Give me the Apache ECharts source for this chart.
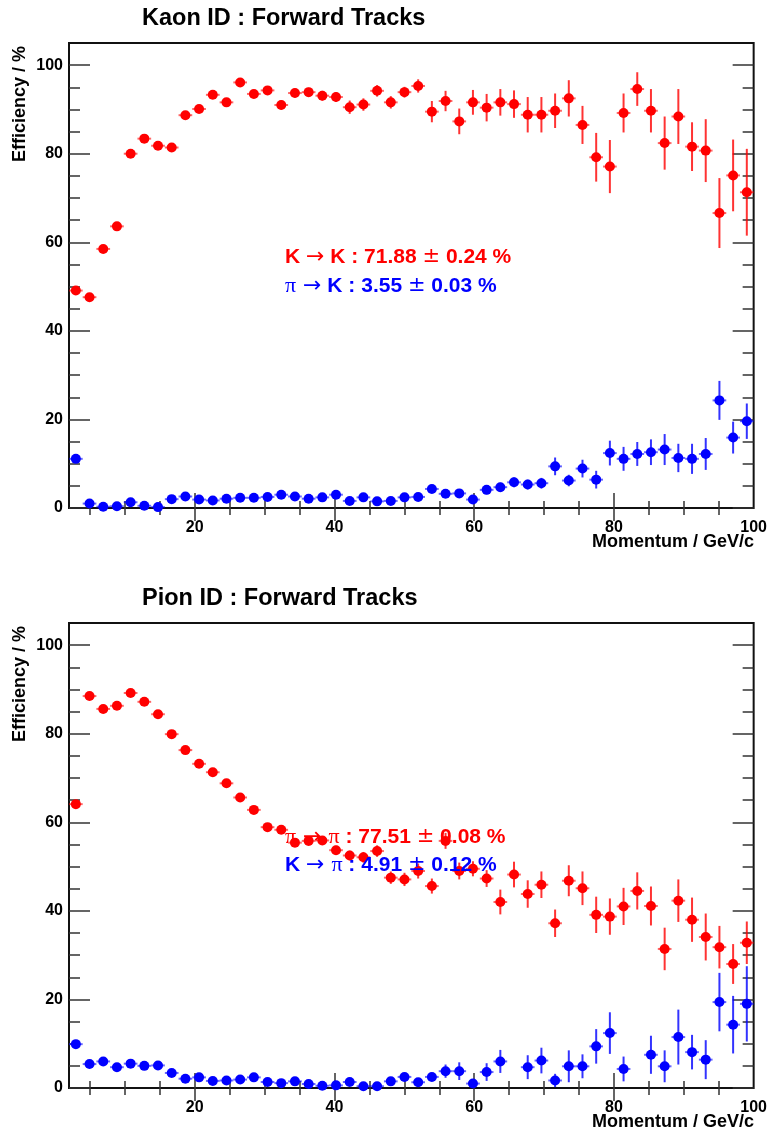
<!DOCTYPE html>
<html>
<head>
<meta charset="utf-8">
<script src="https://cdn.jsdelivr.net/npm/echarts@6/dist/echarts.min.js"></script>
<style>
html,body{margin:0;padding:0;background:#fff;}
#c{width:770px;height:1132px;}
</style>
</head>
<body>
<div id="c"></div>
<script>
// ---- data ----
var momentum = [2.98,4.94,6.90,8.86,10.82,12.78,14.74,16.70,18.66,20.62,22.58,24.54,26.50,28.46,30.42,32.38,34.34,36.30,38.26,40.22,42.18,44.14,46.10,48.06,50.02,51.98,53.94,55.90,57.86,59.82,61.78,63.74,65.70,67.66,69.62,71.58,73.54,75.50,77.46,79.42,81.38,83.34,85.30,87.26,89.22,91.18,93.14,95.10,97.06,99.02];
var binWidth = 1.96;

var kaonKK = [49.1,47.6,58.5,63.6,80.0,83.4,81.8,81.4,88.7,90.1,93.3,91.6,96.1,93.5,94.3,91.0,93.7,93.9,93.1,92.8,90.5,91.1,94.2,91.6,93.9,95.3,89.5,91.9,87.3,91.6,90.4,91.6,91.2,88.8,88.8,89.7,92.5,86.5,79.2,77.1,89.2,94.6,89.7,82.4,88.4,81.6,80.7,66.6,75.1,71.3];
var kaonKKErr = [0.8,0.8,0.7,0.7,0.6,0.6,0.6,0.6,0.6,0.7,0.7,0.8,0.8,0.9,0.9,1.0,1.0,1.0,1.1,1.1,1.5,1.4,1.3,1.4,1.2,1.5,2.4,2.3,2.9,2.8,3.1,3.0,3.1,4.0,4.0,3.9,4.1,4.3,5.5,6.0,4.4,3.8,4.9,6.0,6.2,5.5,7.1,7.9,8.1,9.8];
var kaonPiK = [11.1,1.0,0.3,0.4,1.3,0.5,0.2,2.0,2.6,1.9,1.7,2.1,2.3,2.3,2.5,3.0,2.6,2.1,2.4,3.0,1.6,2.4,1.5,1.6,2.4,2.5,4.3,3.2,3.3,1.9,4.1,4.7,5.8,5.3,5.6,9.4,6.2,8.9,6.4,12.4,11.1,12.2,12.6,13.2,11.3,11.1,12.2,24.3,15.9,19.6];
var kaonPiKErr = [0.9,0.3,0.2,0.2,0.3,0.2,0.2,0.4,0.4,0.4,0.4,0.4,0.4,0.4,0.5,0.5,0.5,0.5,0.5,0.6,0.5,0.6,0.5,0.6,0.7,0.7,0.9,0.8,0.9,0.8,1.0,1.0,1.1,1.1,1.2,2.0,1.3,2.0,2.0,2.8,2.7,2.7,2.9,3.5,3.2,3.4,3.6,4.4,3.6,4.0];

var pionPiPi = [64.1,88.5,85.6,86.3,89.2,87.2,84.4,79.9,76.3,73.2,71.3,68.8,65.6,62.8,58.9,58.3,55.4,55.8,55.9,53.7,52.5,52.1,53.5,47.5,47.1,49.0,45.6,55.8,49.0,49.5,47.3,42.0,48.2,43.8,45.9,37.2,46.8,45.1,39.1,38.7,41.0,44.5,41.1,31.4,42.3,38.0,34.1,31.8,28.0,32.8];
var pionPiPiErr = [0.5,0.5,0.5,0.5,0.5,0.5,0.5,0.5,0.5,0.6,0.6,0.6,0.7,0.7,0.8,0.8,0.9,0.9,1.0,1.0,1.1,1.2,1.3,1.4,1.5,1.7,1.7,1.8,1.9,1.7,1.9,2.8,2.9,3.1,3.0,3.1,3.5,3.8,4.1,4.1,4.2,4.2,4.4,4.8,4.8,5.0,5.3,4.8,4.5,4.8];
var pionKPi = [9.9,5.4,6.0,4.7,5.5,5.0,5.1,3.4,2.1,2.4,1.6,1.7,1.9,2.4,1.35,1.1,1.5,0.9,0.5,0.6,1.35,0.4,0.4,1.5,2.5,1.3,2.5,3.8,3.8,1.0,3.6,6.0,null,4.7,6.2,1.7,4.9,4.9,9.4,12.4,4.3,null,7.5,4.9,11.5,8.1,6.4,19.4,14.3,19.0];
var pionKPiErr = [0.9,0.6,0.6,0.6,0.6,0.6,0.6,0.5,0.4,0.4,0.4,0.4,0.4,0.4,0.4,0.4,0.4,0.4,0.3,0.4,0.5,0.3,0.4,0.6,0.8,0.7,0.9,1.5,2.0,0.8,2.0,2.6,null,2.7,2.9,1.5,3.6,2.7,3.9,4.7,2.8,null,4.3,3.6,6.2,3.9,4.4,6.6,6.5,8.5];

var xTickLabels = [20,40,60,80,100];
var xMajor = [20,40,60,80];
var xMinor = [5,10,15,25,30,35,45,50,55,65,70,75,85,90,95];
var yTickLabels = [0,20,40,60,80,100];
var yMinor = [5,10,15,25,30,35,45,50,55,65,70,75,85,90,95];

var titles = ['Kaon ID : Forward Tracks','Pion ID : Forward Tracks'];
var yTitle = 'Efficiency / %';
var xTitle = 'Momentum / GeV/c';

// ---- build ----
var FONT = "'Liberation Sans', Arial, Helvetica, sans-serif";
var RED = '#ff0000', BLUE = '#0000ff';
var tickStyle = {color:'#333', width:1.5};

function pts(vals, errs){
  var out = [];
  for (var i=0;i<vals.length;i++){
    if (vals[i] === null) continue;
    out.push([momentum[i], vals[i], errs[i]]);
  }
  return out;
}

var grids = [
  {left:69, top:43, width:687, height:465, show:true, borderColor:'#111', borderWidth:2, backgroundColor:'transparent'},
  {left:69, top:623, width:687, height:465, show:true, borderColor:'#111', borderWidth:2, backgroundColor:'transparent'}
];

var xAxes = [], yAxes = [];
for (var g=0; g<2; g++){
  var baseX = {gridIndex:g, type:'value', min:2, max:100, splitLine:{show:false}, axisLine:{show:false}};
  xAxes.push(Object.assign({}, baseX, {position:'bottom',
    axisTick:{inside:true, length:15, customValues:xMajor, lineStyle:tickStyle},
    axisLabel:{customValues:xTickLabels, margin:12, fontSize:16, fontWeight:'bold', color:'#000', fontFamily:FONT}}));
  xAxes.push(Object.assign({}, baseX, {position:'bottom',
    axisTick:{inside:true, length:7, customValues:xMinor, lineStyle:tickStyle}, axisLabel:{show:false}}));
  xAxes.push(Object.assign({}, baseX, {position:'top',
    axisTick:{inside:true, length:13, customValues:xMajor, lineStyle:tickStyle}, axisLabel:{show:false}}));
  xAxes.push(Object.assign({}, baseX, {position:'top',
    axisTick:{inside:true, length:7, customValues:xMinor, lineStyle:tickStyle}, axisLabel:{show:false}}));

  var baseY = {gridIndex:g, type:'value', min:0, max:105, splitLine:{show:false}, axisLine:{show:false}};
  yAxes.push(Object.assign({}, baseY, {position:'left',
    axisTick:{inside:true, length:21, customValues:yTickLabels, lineStyle:tickStyle},
    axisLabel:{customValues:yTickLabels, margin:6, fontSize:16, fontWeight:'bold', color:'#000', fontFamily:FONT}}));
  yAxes.push(Object.assign({}, baseY, {position:'left',
    axisTick:{inside:true, length:11, customValues:yMinor, lineStyle:tickStyle}, axisLabel:{show:false}}));
  yAxes.push(Object.assign({}, baseY, {position:'right',
    axisTick:{inside:true, length:21, customValues:yTickLabels, lineStyle:tickStyle}, axisLabel:{show:false}}));
  yAxes.push(Object.assign({}, baseY, {position:'right',
    axisTick:{inside:true, length:11, customValues:yMinor, lineStyle:tickStyle}, axisLabel:{show:false}}));
}

function errSeries(data, color, g){
  return {
    type:'custom', xAxisIndex:g*4, yAxisIndex:g*4, data:data, z:2,
    encode:{x:0, y:1},
    renderItem:function(params, api){
      var x = api.value(0), y = api.value(1), e = api.value(2);
      var c = api.coord([x,y]);
      var t = api.coord([x,y+e]);
      var b = api.coord([x,Math.max(0,y-e)]);
      var l = api.coord([x-binWidth/2,y]);
      var r = api.coord([x+binWidth/2,y]);
      return {type:'group', children:[
        {type:'line', shape:{x1:c[0],y1:t[1],x2:c[0],y2:b[1]}, style:{stroke:color, lineWidth:2, opacity:0.8}},
        {type:'line', shape:{x1:l[0],y1:c[1],x2:r[0],y2:c[1]}, style:{stroke:color, lineWidth:2, opacity:0.6}}
      ]};
    }
  };
}
function markSeries(data, color, g){
  return {type:'scatter', xAxisIndex:g*4, yAxisIndex:g*4, data:data, symbol:'circle', symbolSize:10, z:3,
    itemStyle:{color:color, opacity:1}, silent:true, encode:{x:0,y:1}};
}

var dK = pts(kaonKK, kaonKKErr), dPK = pts(kaonPiK, kaonPiKErr);
var dPP = pts(pionPiPi, pionPiPiErr), dKP = pts(pionKPi, pionKPiErr);

var series = [
  errSeries(dK, RED, 0), markSeries(dK, RED, 0),
  errSeries(dPK, BLUE, 0), markSeries(dPK, BLUE, 0),
  errSeries(dPP, RED, 1), markSeries(dPP, RED, 1),
  errSeries(dKP, BLUE, 1), markSeries(dKP, BLUE, 1)
];

var FS = 21;
var rich = {
  b:{fontFamily:FONT, fontWeight:'bold', fontSize:FS},
  a:{fontFamily:"'DejaVu Sans', sans-serif", fontWeight:'normal', fontSize:FS+1},
  p:{fontFamily:"'Liberation Serif', 'DejaVu Serif', serif", fontWeight:'normal', fontSize:FS+1},
  m:{fontFamily:"'DejaVu Sans', sans-serif", fontWeight:'normal', fontSize:FS}
};
function note(x, y, txt, color){
  return {type:'text', x:x, y:y, z:10, style:{text:txt, fill:color, font:'bold '+FS+'px '+FONT, verticalAlign:'middle', align:'left', rich:rich}};
}

var graphics = [];
var offs = [0, 580];
for (var k=0;k<2;k++){
  var o = offs[k];
  graphics.push({type:'text', x:142, y:19+o, style:{text:titles[k], fill:'#000', font:'bold 23.5px '+FONT, verticalAlign:'middle', align:'left'}});
  graphics.push({type:'text', x:20, y:104+o, rotation:Math.PI/2, style:{text:yTitle, fill:'#000', font:'bold 18px '+FONT, verticalAlign:'middle', align:'center'}});
  graphics.push({type:'text', x:754, y:542+o, style:{text:xTitle, fill:'#000', font:'bold 18px '+FONT, verticalAlign:'middle', align:'right'}});
}
graphics.push(note(285, 257, '{b|K }{a|\u2192}{b| K : 71.88 }{m|\u00b1}{b| 0.24 %}', RED));
graphics.push(note(285, 286, '{p|\u03c0}{a| \u2192}{b| K : 3.55 }{m|\u00b1}{b| 0.03 %}', BLUE));
graphics.push(note(285, 837, '{p|\u03c0}{a| \u2192 }{p|\u03c0}{b| : 77.51 }{m|\u00b1}{b| 0.08 %}', RED));
graphics.push(note(285, 865, '{b|K }{a|\u2192 }{p|\u03c0}{b| : 4.91 }{m|\u00b1}{b| 0.12 %}', BLUE));

var chart = echarts.init(document.getElementById('c'), null, {renderer:'canvas'});
chart.setOption({
  animation:false,
  backgroundColor:'#fff',
  grid:grids, xAxis:xAxes, yAxis:yAxes, series:series, graphic:graphics
});
</script>
</body>
</html>
